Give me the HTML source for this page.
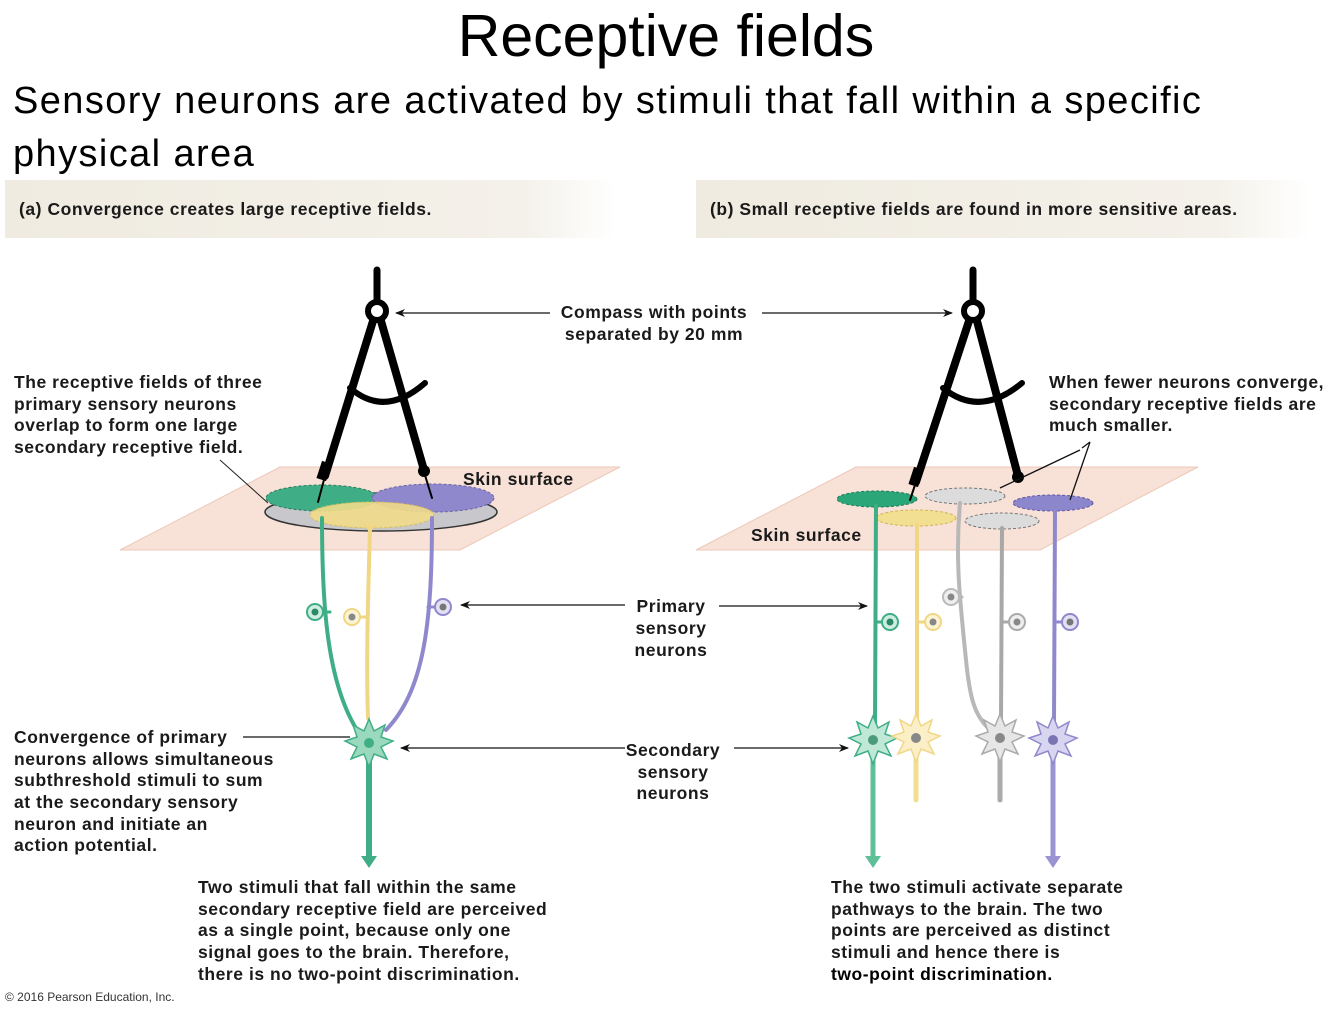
<!DOCTYPE html>
<html><head><meta charset="utf-8"><style>
html,body{margin:0;padding:0;background:#fff;}
svg{display:block;}
.b{font-family:"Liberation Sans",Arial,sans-serif;font-weight:bold;font-size:17.5px;letter-spacing:0.55px;fill:#1a1a1a;}
</style></head><body>
<svg width="1334" height="1011" viewBox="0 0 1334 1011" xmlns="http://www.w3.org/2000/svg">
<defs>
<marker id="ah" markerWidth="10" markerHeight="8" refX="9" refY="4" orient="auto" markerUnits="userSpaceOnUse"><path d="M0,0 L10,4 L0,8 L3,4 Z" fill="#111"/></marker>
<linearGradient id="hd" x1="0" x2="1"><stop offset="0" stop-color="#efebe0"/><stop offset="0.85" stop-color="#f4f1ea"/><stop offset="1" stop-color="#fff"/></linearGradient>
</defs>
<text x="666" y="56" text-anchor="middle" font-family="'Liberation Sans',sans-serif" font-size="59" fill="#000">Receptive fields</text>
<text x="13" y="113" font-family="'Liberation Sans',sans-serif" font-size="38" letter-spacing="1.4" fill="#000">Sensory neurons are activated by stimuli that fall within a specific</text>
<text x="13" y="166" font-family="'Liberation Sans',sans-serif" font-size="38" letter-spacing="1.4" fill="#000">physical area</text>

<rect x="5" y="180" width="610" height="58" fill="url(#hd)"/>
<rect x="696" y="180" width="614" height="58" fill="url(#hd)"/>
<text class="b" x="19" y="215">(a) Convergence creates large receptive fields.</text>
<text class="b" x="710" y="215">(b) Small receptive fields are found in more sensitive areas.</text>

<polygon points="120,550 280,467 620,467 460,550" fill="#f8e1d6" stroke="#ecc9b8"/>
<polygon points="696,550 856,467 1198,467 1040,550" fill="#f8e1d6" stroke="#ecc9b8"/>

<ellipse cx="381" cy="512" rx="116" ry="19" fill="#c8c8cc" stroke="#333" stroke-width="1.5"/>
<ellipse cx="322" cy="498" rx="56" ry="13" fill="#3fae86" stroke="#2b7d60" stroke-dasharray="3,2"/>
<ellipse cx="433" cy="498" rx="61" ry="14" fill="#8f88cc" stroke="#6a63a8" stroke-dasharray="3,2"/>
<ellipse cx="372" cy="515" rx="62" ry="13" fill="#f1dc8a" fill-opacity="0.9" stroke="#d4bd5c" stroke-dasharray="3,2"/>
<line x1="268" y1="503" x2="220" y2="460" stroke="#222" stroke-width="1"/>

<ellipse cx="877" cy="499" rx="40" ry="8" fill="#2aa678" stroke="#1b7d5a" stroke-dasharray="3,2"/>
<ellipse cx="965" cy="496" rx="40" ry="8" fill="#dcdcdc" stroke="#777" stroke-dasharray="3,2"/>
<ellipse cx="1053" cy="503" rx="40" ry="8" fill="#8c86cc" stroke="#5f58a6" stroke-dasharray="3,2"/>
<ellipse cx="916" cy="518" rx="40" ry="8" fill="#f3df91" stroke="#cdb557" stroke-dasharray="3,2"/>
<ellipse cx="1002" cy="521" rx="37" ry="8" fill="#dcdcdc" stroke="#777" stroke-dasharray="3,2"/>

<g fill="none" stroke-linecap="round">
<path d="M322,518 C322,600 326,680 357,730" stroke="#3fae86" stroke-width="4"/>
<path d="M370,528 C368,600 366,660 368,718" stroke="#f1d785" stroke-width="4"/>
<path d="M432,518 C432,620 425,690 386,730" stroke="#8f88cc" stroke-width="4"/>
<path d="M370,530 l-6,-6 M370,530 l6,-6 M370,530 l0,-7" stroke="#f1d785" stroke-width="2"/>
<line x1="330" y1="612" x2="322" y2="612" stroke="#3fae86" stroke-width="3"/>
<line x1="360" y1="617" x2="368" y2="617" stroke="#f1d785" stroke-width="3"/>
<line x1="434" y1="607" x2="428" y2="607" stroke="#8f88cc" stroke-width="3"/>
<line x1="369" y1="760" x2="369" y2="858" stroke="#3fae86" stroke-width="6"/>
</g>
<polygon points="361,856 377,856 369,868" fill="#3fae86"/>
<circle cx="315" cy="612" r="8" fill="#cdeee0" stroke="#3fae86" stroke-width="2"/><circle cx="315" cy="612" r="3.5" fill="#2a8a66"/>
<circle cx="352" cy="617" r="8" fill="#fdf4d4" stroke="#f1d785" stroke-width="2"/><circle cx="352" cy="617" r="3.5" fill="#888"/>
<circle cx="443" cy="607" r="8" fill="#e3e0f4" stroke="#8f88cc" stroke-width="2"/><circle cx="443" cy="607" r="3.5" fill="#777"/>

<g transform="translate(369,743)">
<polygon points="0,-24 5,-12 16,-18 12,-6 24,-2 12,4 18,16 5,11 0,24 -5,11 -18,16 -12,4 -24,-2 -12,-6 -16,-18 -5,-12" fill="#9ad9bd" stroke="#3fae86" stroke-width="1.5"/>
<circle r="5" fill="#3fae86"/>
</g>

<g fill="none" stroke-linecap="round">
<line x1="876" y1="506" x2="875" y2="725" stroke="#3fae86" stroke-width="4"/>
<line x1="917" y1="525" x2="917" y2="722" stroke="#f1d785" stroke-width="4"/>
<path d="M960,503 C955,560 960,600 966,660 C970,700 975,715 988,728" stroke="#b8b8b8" stroke-width="4"/>
<line x1="1002" y1="528" x2="1001" y2="722" stroke="#a8a8a8" stroke-width="4"/>
<line x1="1055" y1="510" x2="1054" y2="722" stroke="#8f88cc" stroke-width="4"/>
<line x1="876" y1="622" x2="882" y2="622" stroke="#3fae86" stroke-width="3"/>
<line x1="917" y1="622" x2="925" y2="622" stroke="#f1d785" stroke-width="3"/>
<line x1="957" y1="597" x2="962" y2="597" stroke="#b8b8b8" stroke-width="3"/>
<line x1="1001" y1="622" x2="1009" y2="622" stroke="#a8a8a8" stroke-width="3"/>
<line x1="1054" y1="622" x2="1062" y2="622" stroke="#8f88cc" stroke-width="3"/>
<line x1="873" y1="760" x2="873" y2="858" stroke="#5fbf98" stroke-width="5"/>
<line x1="916" y1="758" x2="916" y2="800" stroke="#f3df91" stroke-width="5"/>
<line x1="1000" y1="758" x2="1000" y2="800" stroke="#aaa" stroke-width="5"/>
<line x1="1053" y1="760" x2="1053" y2="858" stroke="#9a94d2" stroke-width="5"/>
</g>
<polygon points="865,856 881,856 873,868" fill="#5fbf98"/>
<polygon points="1045,856 1061,856 1053,868" fill="#9a94d2"/>
<circle cx="890" cy="622" r="8" fill="#cdeee0" stroke="#3fae86" stroke-width="2"/><circle cx="890" cy="622" r="3.5" fill="#2a8a66"/>
<circle cx="933" cy="622" r="8" fill="#fdf4d4" stroke="#f1d785" stroke-width="2"/><circle cx="933" cy="622" r="3.5" fill="#888"/>
<circle cx="951" cy="597" r="8" fill="#eee" stroke="#bbb" stroke-width="2"/><circle cx="951" cy="597" r="3.5" fill="#888"/>
<circle cx="1017" cy="622" r="8" fill="#eee" stroke="#aaa" stroke-width="2"/><circle cx="1017" cy="622" r="3.5" fill="#888"/>
<circle cx="1070" cy="622" r="8" fill="#e3e0f4" stroke="#8f88cc" stroke-width="2"/><circle cx="1070" cy="622" r="3.5" fill="#777"/>
<g transform="translate(873,740)"><polygon points="0,-24 5,-12 16,-18 12,-6 24,-2 12,4 18,16 5,11 0,24 -5,11 -18,16 -12,4 -24,-2 -12,-6 -16,-18 -5,-12" fill="#bfe8d6" stroke="#3fae86" stroke-width="1.5"/><circle r="5" fill="#4a9a7c"/></g>
<g transform="translate(916,738)"><polygon points="0,-24 5,-12 16,-18 12,-6 24,-2 12,4 18,16 5,11 0,24 -5,11 -18,16 -12,4 -24,-2 -12,-6 -16,-18 -5,-12" fill="#fbefc8" stroke="#f1d785" stroke-width="1.5"/><circle r="5" fill="#888"/></g>
<g transform="translate(1000,738)"><polygon points="0,-24 5,-12 16,-18 12,-6 24,-2 12,4 18,16 5,11 0,24 -5,11 -18,16 -12,4 -24,-2 -12,-6 -16,-18 -5,-12" fill="#e6e6e6" stroke="#aaa" stroke-width="1.5"/><circle r="5" fill="#888"/></g>
<g transform="translate(1053,740)"><polygon points="0,-24 5,-12 16,-18 12,-6 24,-2 12,4 18,16 5,11 0,24 -5,11 -18,16 -12,4 -24,-2 -12,-6 -16,-18 -5,-12" fill="#d8d5f0" stroke="#8f88cc" stroke-width="1.5"/><circle r="5" fill="#7a74b4"/></g>

<g stroke="#000" fill="none" stroke-linecap="round">
<line x1="377" y1="270" x2="377" y2="300" stroke-width="7"/>
<circle cx="377" cy="311" r="9" stroke-width="6"/>
<line x1="373" y1="321" x2="325" y2="476" stroke-width="8"/>
<line x1="381" y1="321" x2="424" y2="470" stroke-width="8"/>
<path d="M350,388 Q385,418 425,383" stroke-width="6"/>
<line x1="325" y1="476" x2="318" y2="502" stroke-width="2"/>
<line x1="424" y1="472" x2="432" y2="498" stroke-width="2"/>

<line x1="973" y1="270" x2="973" y2="300" stroke-width="7"/>
<circle cx="973" cy="311" r="9" stroke-width="6"/>
<line x1="969" y1="321" x2="916" y2="482" stroke-width="8"/>
<line x1="977" y1="321" x2="1018" y2="476" stroke-width="8"/>
<path d="M943,388 Q980,418 1022,383" stroke-width="6"/>
<line x1="916" y1="482" x2="910" y2="500" stroke-width="2"/>
</g>
<circle cx="424" cy="471" r="6" fill="#000"/>
<circle cx="1018" cy="477" r="6" fill="#000"/>
<rect x="319" y="462" width="10" height="18" fill="#000" transform="rotate(18 324 471)"/>
<rect x="911" y="468" width="10" height="18" fill="#000" transform="rotate(18 916 477)"/>

<g stroke="#111" stroke-width="1.3" fill="none">
<line x1="550" y1="313" x2="396" y2="313" marker-end="url(#ah)"/>
<line x1="762" y1="313" x2="952" y2="313" marker-end="url(#ah)"/>
<line x1="625" y1="605" x2="461" y2="605" marker-end="url(#ah)"/>
<line x1="719" y1="606" x2="867" y2="606" marker-end="url(#ah)"/>
<line x1="625" y1="748" x2="401" y2="748" marker-end="url(#ah)"/>
<line x1="734" y1="748" x2="848" y2="748" marker-end="url(#ah)"/>
<line x1="243" y1="737" x2="350" y2="737"/>
<line x1="1090" y1="442" x2="1070" y2="500"/>
<line x1="1080" y1="450" x2="1000" y2="488"/>
<path d="M1090,442 L1082,448"/>
</g>

<text class="b" x="654" y="318" text-anchor="middle">Compass with points</text>
<text class="b" x="654" y="340" text-anchor="middle">separated by 20 mm</text>
<text class="b" x="14" y="388">The receptive fields of three</text>
<text class="b" x="14" y="410">primary sensory neurons</text>
<text class="b" x="14" y="431">overlap to form one large</text>
<text class="b" x="14" y="453">secondary receptive field.</text>
<text class="b" x="463" y="485">Skin surface</text>
<text class="b" x="751" y="541">Skin surface</text>
<text class="b" x="1049" y="388">When fewer neurons converge,</text>
<text class="b" x="1049" y="410">secondary receptive fields are</text>
<text class="b" x="1049" y="431">much smaller.</text>
<text class="b" x="671" y="612" text-anchor="middle">Primary</text>
<text class="b" x="671" y="634" text-anchor="middle">sensory</text>
<text class="b" x="671" y="656" text-anchor="middle">neurons</text>
<text class="b" x="673" y="756" text-anchor="middle">Secondary</text>
<text class="b" x="673" y="778" text-anchor="middle">sensory</text>
<text class="b" x="673" y="799" text-anchor="middle">neurons</text>
<text class="b" x="14" y="743">Convergence of primary</text>
<text class="b" x="14" y="765">neurons allows simultaneous</text>
<text class="b" x="14" y="786">subthreshold stimuli to sum</text>
<text class="b" x="14" y="808">at the secondary sensory</text>
<text class="b" x="14" y="830">neuron and initiate an</text>
<text class="b" x="14" y="851">action potential.</text>
<text class="b" x="198" y="893">Two stimuli that fall within the same</text>
<text class="b" x="198" y="915">secondary receptive field are perceived</text>
<text class="b" x="198" y="936">as a single point, because only one</text>
<text class="b" x="198" y="958">signal goes to the brain. Therefore,</text>
<text class="b" x="198" y="980">there is no two-point discrimination.</text>
<text class="b" x="831" y="893">The two stimuli activate separate</text>
<text class="b" x="831" y="915">pathways to the brain. The two</text>
<text class="b" x="831" y="936">points are perceived as distinct</text>
<text class="b" x="831" y="958">stimuli and hence there is</text>
<text class="b" x="831" y="980" style="font-weight:900;fill:#000">two-point discrimination.</text>
<text x="5" y="1001" font-family="'Liberation Sans',sans-serif" font-size="12" fill="#333">© 2016 Pearson Education, Inc.</text>
</svg>
</body></html>
